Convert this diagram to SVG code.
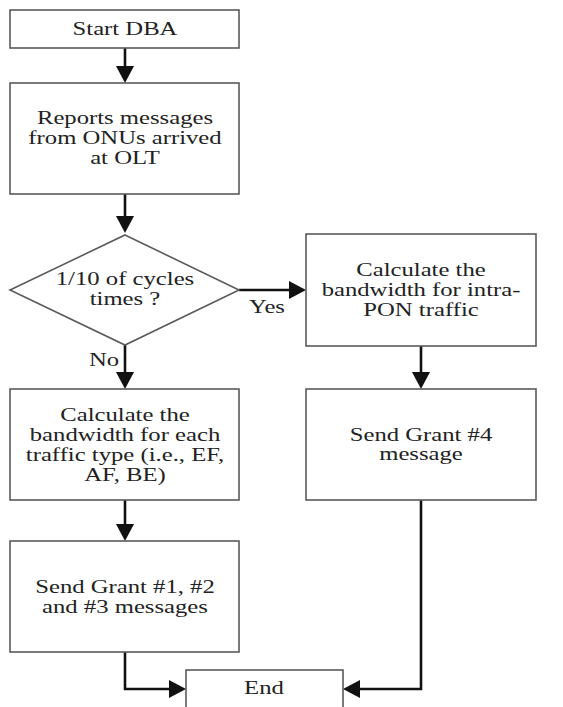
<svg xmlns="http://www.w3.org/2000/svg" width="563" height="707" viewBox="0 0 563 707">
<style>
.box{fill:#fff;stroke:#5a5a5a;stroke-width:1.6}
.t{font-family:"Liberation Serif","Times New Roman",serif;font-size:19px;fill:#222;text-anchor:middle}
.c{fill:none;stroke:#111;stroke-width:2.6;stroke-linejoin:miter}
</style>
<defs>
<marker id="ah" markerUnits="userSpaceOnUse" viewBox="0 0 17 18" refX="13" refY="9" markerWidth="17" markerHeight="18" orient="auto">
<path d="M0,0 L17,9 L0,18 Z" fill="#111"/>
</marker>
</defs>
<rect width="563" height="707" fill="#fff"/>
<g id="connectors">
<path class="c" d="M125,48 V79" marker-end="url(#ah)"/>
<path class="c" d="M125,194 V229" marker-end="url(#ah)"/>
<path class="c" d="M239,290 H302" marker-end="url(#ah)"/>
<path class="c" d="M125,345 V385" marker-end="url(#ah)"/>
<path class="c" d="M421,346 V385" marker-end="url(#ah)"/>
<path class="c" d="M125,500 V537" marker-end="url(#ah)"/>
<path class="c" d="M125,652 V689 H182" marker-end="url(#ah)"/>
<path class="c" d="M421,500 V689 H347" marker-end="url(#ah)"/>
<text class="t" transform="matrix(1.3,0,0,1,267,0)" x="0" y="313">Yes</text>
<text class="t" transform="matrix(1.3,0,0,1,104,0)" x="0" y="366">No</text>
</g>
<g id="start">
<rect class="box" x="10" y="10" width="229" height="38"/>
<text class="t" transform="matrix(1.3,0,0,1,125,0)" x="0" y="35">Start DBA</text>
</g>
<g id="reports">
<rect class="box" x="10" y="83" width="229" height="111"/>
<text class="t" transform="matrix(1.3,0,0,1,125,0)" x="0" y="124">Reports messages</text>
<text class="t" transform="matrix(1.3,0,0,1,125,0)" x="0" y="144">from ONUs arrived</text>
<text class="t" transform="matrix(1.3,0,0,1,125,0)" x="0" y="164">at OLT</text>
</g>
<g id="decision">
<polygon class="box" points="125,235 239,290 125,345 10,290"/>
<text class="t" transform="matrix(1.3,0,0,1,125,0)" x="0" y="285">1/10 of cycles</text>
<text class="t" transform="matrix(1.3,0,0,1,125,0)" x="0" y="305">times ?</text>
</g>
<g id="intrapon">
<rect class="box" x="306" y="234" width="230" height="112"/>
<text class="t" transform="matrix(1.3,0,0,1,421,0)" x="0" y="276">Calculate the</text>
<text class="t" transform="matrix(1.3,0,0,1,421,0)" x="0" y="296">bandwidth for intra-</text>
<text class="t" transform="matrix(1.3,0,0,1,421,0)" x="0" y="316">PON traffic</text>
</g>
<g id="eachtype">
<rect class="box" x="10" y="389" width="229" height="111"/>
<text class="t" transform="matrix(1.3,0,0,1,125,0)" x="0" y="421">Calculate the</text>
<text class="t" transform="matrix(1.3,0,0,1,125,0)" x="0" y="441">bandwidth for each</text>
<text class="t" transform="matrix(1.3,0,0,1,125,0)" x="0" y="461">traffic type (i.e., EF,</text>
<text class="t" transform="matrix(1.3,0,0,1,125,0)" x="0" y="481">AF, BE)</text>
</g>
<g id="grant4">
<rect class="box" x="306" y="389" width="230" height="111"/>
<text class="t" transform="matrix(1.3,0,0,1,421,0)" x="0" y="441">Send Grant #4</text>
<text class="t" transform="matrix(1.3,0,0,1,421,0)" x="0" y="460">message</text>
</g>
<g id="grant123">
<rect class="box" x="10" y="541" width="229" height="111"/>
<text class="t" transform="matrix(1.3,0,0,1,125,0)" x="0" y="593">Send Grant #1, #2</text>
<text class="t" transform="matrix(1.3,0,0,1,125,0)" x="0" y="613">and #3 messages</text>
</g>
<g id="end">
<rect class="box" x="186" y="670" width="157" height="50"/>
<text class="t" transform="matrix(1.3,0,0,1,264,0)" x="0" y="694">End</text>
</g>
</svg>
